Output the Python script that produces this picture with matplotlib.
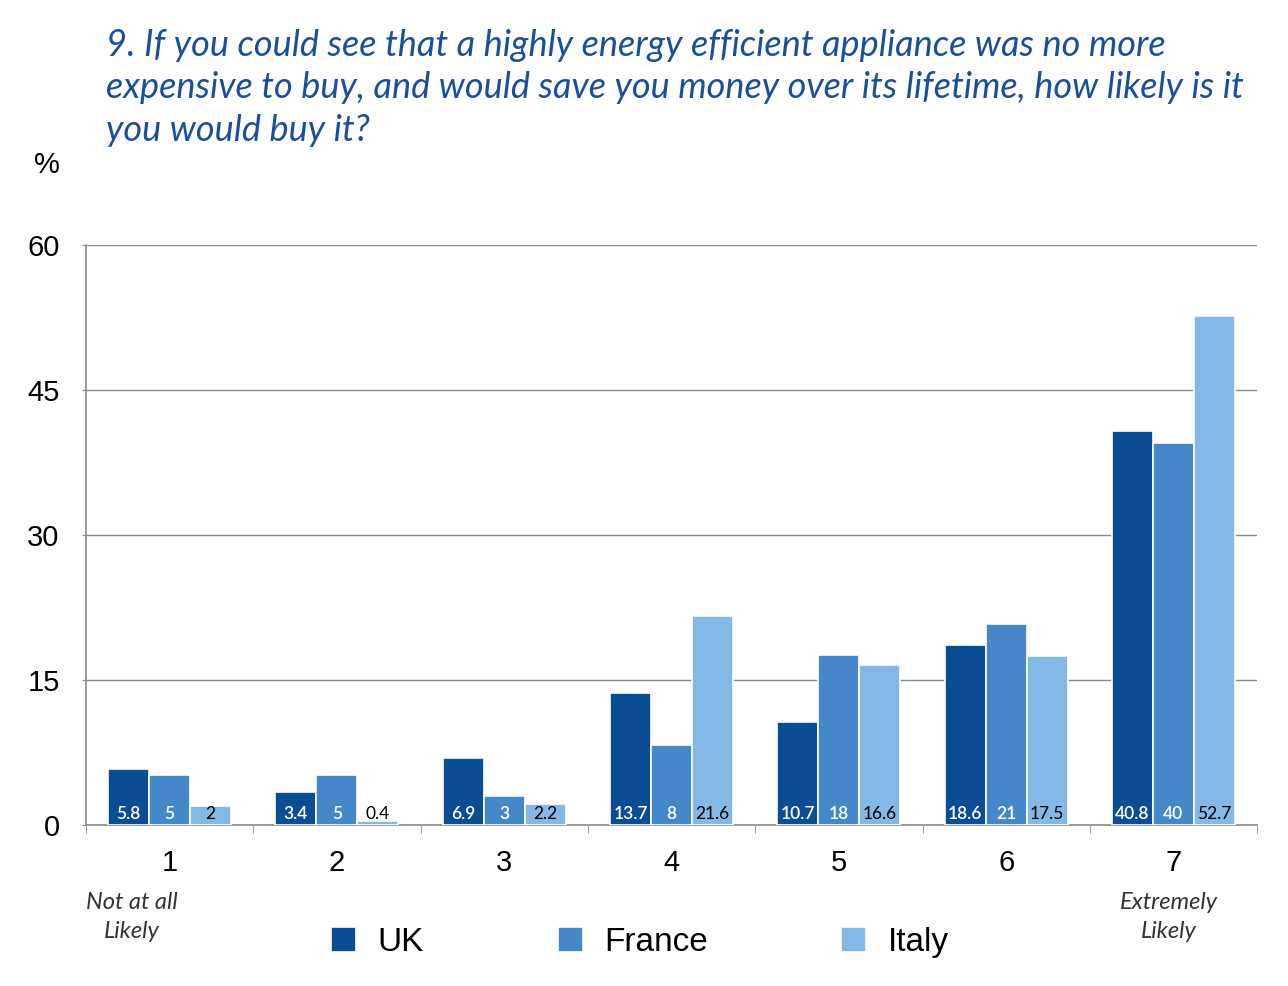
import numpy as np
import matplotlib.pyplot as plt
from matplotlib.ticker import FixedLocator

categories = ['1', '2', '3', '4', '5', '6', '7']
series = ['UK', 'France', 'Italy']
uk = [5.8, 3.4, 6.9, 13.7, 10.7, 18.6, 40.8]
france = [5.2, 5.2, 3.0, 8.3, 17.6, 20.8, 39.5]
italy = [2.0, 0.4, 2.2, 21.6, 16.6, 17.5, 52.7]
france_labels = [5, 5, 3, 8, 18, 21, 40]

colors = ['#0b4d95', '#4588c9', '#85b9e5']
label_colors = ['white', 'white', 'black']

fig = plt.figure(figsize=(12.88, 9.86), dpi=100)
ax = fig.add_axes([0.0668, 0.1633, 0.9092, 0.5882])

x = np.arange(len(categories))
w = 0.245
values = [uk, france, italy]
labels = [[f'{v:g}' for v in uk], [str(v) for v in france_labels], [f'{v:g}' for v in italy]]

for i, (vals, name) in enumerate(zip(values, series)):
    pos = x + (i - 1) * w
    ax.bar(pos, vals, width=w, color=colors[i], edgecolor='white', linewidth=1.2,
           label=name, zorder=3)
    for p, lab in zip(pos, labels[i]):
        ax.text(p, 1.15, lab, ha='center', va='center', fontsize=12.5,
                family='Lato', fontweight='semibold' if i < 2 else 'normal',
                color=label_colors[i], zorder=4)

ax.set_xlim(-0.5, 6.5)
ax.set_ylim(0, 60)
ax.set_yticks([0, 15, 30, 45, 60])
ax.yaxis.grid(True, color='#8c8c8c', linewidth=1)
ax.set_axisbelow(True)
ax.tick_params(axis='y', length=3, color='#8c8c8c', labelsize=21, pad=16)
for t in ax.get_yticklabels():
    t.set_family('Liberation Sans')

ax.set_xticks(x)
ax.set_xticklabels(categories, fontsize=21, family='Liberation Sans')
ax.tick_params(axis='x', length=0, pad=17)
ax.xaxis.set_minor_locator(FixedLocator(np.arange(-0.5, 7, 1)))
ax.tick_params(axis='x', which='minor', length=6, color='#8c8c8c')

for s in ['top', 'right']:
    ax.spines[s].set_visible(False)
for s in ['left', 'bottom']:
    ax.spines[s].set_color('#8c8c8c')
    ax.spines[s].set_linewidth(1.2)

fig.text(106 / 1288, 1 - 88 / 986,
         '9. If you could see that a highly energy efficient appliance was no more\n'
         'expensive to buy, and would save you money over its lifetime, how likely is it\n'
         'you would buy it?',
         ha='left', va='center', fontsize=26, family='Lato', style='italic',
         color='#1a4f9c', linespacing=1.34)
fig.text(47 / 1288, 1 - 165 / 986, '%', ha='center', va='center', fontsize=21,
         family='Liberation Sans')

fig.text(132 / 1288, 1 - 917 / 986, 'Not at all\nLikely', ha='center', va='center',
         fontsize=17, family='Lato', style='italic', fontweight='normal',
         color='#333333', linespacing=1.5)
fig.text(1169 / 1288, 1 - 917 / 986, 'Extremely\nLikely', ha='center', va='center',
         fontsize=17, family='Lato', style='italic', fontweight='normal',
         color='#333333', linespacing=1.5)

leg = fig.legend(loc='center', bbox_to_anchor=(0.497, 0.044), ncol=3, frameon=False,
                 prop={'family': 'Liberation Sans', 'size': 24},
                 handlelength=0.75, handleheight=0.75, handletextpad=0.65,
                 columnspacing=4.0)

fig.savefig('out.png', dpi=100)
